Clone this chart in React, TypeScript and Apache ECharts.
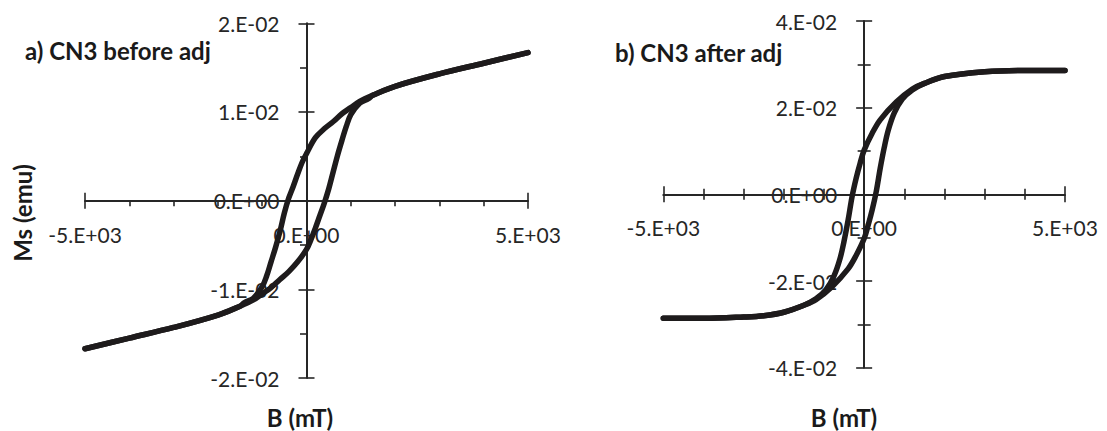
import React, { useEffect, useRef } from "react";
import * as echarts from "echarts";

// ---------- data ----------
// a) CN3 before adj — descending branch (from +5000 mT to -5000 mT)
const beforeDescB = [5000, 4000, 3000, 2000, 1500, 1200, 1000, 800, 600, 400, 200, 0, -100, -200, -300, -400, -500, -600, -700, -800, -900, -1000, -1200, -1400, -1500, -2000, -3000, -4000, -5000];
const beforeDescM = [0.0167, 0.0155, 0.0143, 0.0129, 0.0119, 0.0112, 0.0105, 0.0098, 0.0089, 0.0081, 0.0071, 0.0053, 0.0043, 0.0030, 0.0016, 0.0003, -0.0014, -0.0035, -0.0053, -0.0069, -0.0085, -0.0097, -0.0110, -0.0115, -0.0119, -0.0129, -0.0143, -0.0155, -0.0167];
// a) ascending branch (from -5000 mT to +5000 mT)
const beforeAscB = [-5000, -4000, -3000, -2000, -1500, -1200, -1000, -800, -600, -400, -200, 0, 100, 200, 300, 400, 500, 600, 700, 800, 900, 1000, 1200, 1400, 1500, 2000, 3000, 4000, 5000];
const beforeAscM = [-0.0167, -0.0155, -0.0143, -0.0129, -0.0119, -0.0112, -0.0105, -0.0098, -0.0089, -0.0080, -0.0069, -0.0055, -0.0044, -0.0031, -0.0017, -0.0003, 0.0013, 0.0032, 0.0051, 0.0068, 0.0084, 0.0097, 0.0110, 0.0115, 0.0119, 0.0129, 0.0143, 0.0155, 0.0167];

// b) CN3 after adj — descending branch
const afterDescB = [5000, 4000, 3000, 2000, 1500, 1200, 800, 400, 200, 0, -100, -200, -300, -400, -500, -600, -750, -950, -1200, -1500, -2000, -2500, -3000, -4000, -5000];
const afterDescM = [0.0286, 0.0286, 0.0283, 0.0272, 0.0256, 0.0243, 0.0213, 0.0172, 0.0141, 0.0102, 0.0072, 0.0037, -0.0005, -0.0060, -0.0108, -0.0148, -0.0188, -0.0220, -0.0241, -0.0256, -0.0272, -0.0280, -0.0283, -0.0286, -0.0286];
// b) ascending branch
const afterAscB = [-5000, -4000, -3000, -2500, -2000, -1500, -1200, -800, -400, -200, 0, 100, 200, 300, 400, 500, 600, 750, 950, 1200, 1500, 2000, 3000, 4000, 5000];
const afterAscM = [-0.0286, -0.0286, -0.0283, -0.0280, -0.0272, -0.0256, -0.0243, -0.0213, -0.0172, -0.0141, -0.0102, -0.0071, -0.0036, 0.0006, 0.0060, 0.0108, 0.0148, 0.0188, 0.0220, 0.0241, 0.0256, 0.0272, 0.0283, 0.0286, 0.0286];

// tick labels
const xTickValues = [-5000, 0, 5000];
const xTickLabels = ["-5.E+03", "0.E+00", "5.E+03"];
const yTickValuesA = [-0.02, -0.01, 0, 0.01, 0.02];
const yTickLabelsA = ["-2.E-02", "-1.E-02", "0.E+00", "1.E-02", "2.E-02"];
const yTickValuesB = [-0.04, -0.02, 0, 0.02, 0.04];
const yTickLabelsB = ["-4.E-02", "-2.E-02", "0.E+00", "2.E-02", "4.E-02"];

const panelTitles = ["a) CN3 before adj", "b) CN3 after adj"];
const xAxisTitle = "B (mT)";
const yAxisTitle = "Ms (emu)";

// ---------- styles ----------
const FONT = "Lato, 'Open Sans', 'DejaVu Sans', sans-serif";
const AXIS_COLOR = "#262626";
const LABEL_COLOR = "#262626";
const LINE_COLOR = "#1e1b1c";

function pairs(xs: number[], ys: number[]) {
  return xs.map((x, i) => [x, ys[i]]);
}

function lookup(values: number[], labels: string[]) {
  return (v: number) => {
    for (let i = 0; i < values.length; i++) {
      if (Math.abs(values[i] - v) < 1e-9) return labels[i];
    }
    return "";
  };
}

export default function App() {
  const ref = useRef<HTMLDivElement>(null);

  useEffect(() => {
    if (!ref.current) return;
    const chart = echarts.init(ref.current, undefined, { renderer: "svg" });

    const grids = [
      { left: 85, top: 23.3, width: 443, height: 354.7 },
      { left: 663.3, top: 21, width: 401.7, height: 346.7 },
    ];

    const labelStyle = {
      color: LABEL_COLOR,
      fontFamily: FONT,
      fontSize: 21,
    };

    // axes cross in the middle of each grid (ranges are symmetric about zero)
    const mkX = (gridIndex: number, top: boolean, minorCross: boolean) => ({
      type: "value",
      gridIndex,
      position: top ? "top" : "bottom",
      offset: -grids[gridIndex].height / 2,
      min: -5000,
      max: 5000,
      interval: 5000,
      splitLine: { show: false },
      axisLine: {
        show: !top,
        onZero: false,
        lineStyle: { color: AXIS_COLOR, width: 2 },
      },
      axisTick: { show: true, length: 8, lineStyle: { color: AXIS_COLOR, width: 1.6 } },
      minorTick: {
        show: !top || minorCross,
        splitNumber: 5,
        length: 5.5,
        lineStyle: { color: AXIS_COLOR, width: 1.6 },
      },
      minorSplitLine: { show: false },
      axisLabel: {
        show: !top,
        margin: 23,
        ...labelStyle,
        formatter: lookup(xTickValues, xTickLabels),
      },
    });

    const mkY = (
      gridIndex: number,
      right: boolean,
      minorCross: boolean,
      min: number,
      max: number,
      interval: number,
      values: number[],
      labels: string[]
    ) => ({
      type: "value",
      gridIndex,
      position: right ? "right" : "left",
      offset: -grids[gridIndex].width / 2,
      min,
      max,
      interval,
      splitLine: { show: false },
      axisLine: {
        show: !right,
        onZero: false,
        lineStyle: { color: AXIS_COLOR, width: 2 },
      },
      axisTick: { show: true, length: 8, lineStyle: { color: AXIS_COLOR, width: 1.6 } },
      minorTick: {
        show: !right || minorCross,
        splitNumber: 2,
        length: 6.5,
        lineStyle: { color: AXIS_COLOR, width: 1.6 },
      },
      minorSplitLine: { show: false },
      axisLabel: {
        show: !right,
        margin: 27,
        ...labelStyle,
        formatter: lookup(values, labels),
      },
    });

    const lineSeries = (data: number[][], xi: number, yi: number) => ({
      type: "line",
      xAxisIndex: xi,
      yAxisIndex: yi,
      data,
      showSymbol: false,
      symbol: "none",
      smooth: 0.35,
      lineStyle: { color: LINE_COLOR, width: 5.5, cap: "round", join: "round" },
      z: 3,
    });

    const titleFont = `bold 24px ${FONT}`;

    const option: any = {
      animation: false,
      backgroundColor: "#ffffff",
      grid: grids,
      xAxis: [mkX(0, false, false), mkX(0, true, false), mkX(1, false, true), mkX(1, true, true)],
      yAxis: [
        mkY(0, false, false, -0.02, 0.02, 0.01, yTickValuesA, yTickLabelsA),
        mkY(0, true, false, -0.02, 0.02, 0.01, yTickValuesA, yTickLabelsA),
        mkY(1, false, true, -0.04, 0.04, 0.02, yTickValuesB, yTickLabelsB),
        mkY(1, true, true, -0.04, 0.04, 0.02, yTickValuesB, yTickLabelsB),
      ],
      series: [
        lineSeries(pairs(beforeDescB, beforeDescM), 0, 0),
        lineSeries(pairs(beforeAscB, beforeAscM), 0, 0),
        lineSeries(pairs(afterDescB, afterDescM), 2, 2),
        lineSeries(pairs(afterAscB, afterAscM), 2, 2),
      ],
      graphic: [
        {
          type: "text",
          x: 25,
          y: 50,
          style: { text: panelTitles[0], fill: "#1a1a1a", font: titleFont, align: "left", verticalAlign: "middle" },
        },
        {
          type: "text",
          x: 615,
          y: 52,
          style: { text: panelTitles[1], fill: "#1a1a1a", font: titleFont, align: "left", verticalAlign: "middle" },
        },
        {
          type: "text",
          x: 22,
          y: 213,
          rotation: Math.PI / 2,
          style: { text: yAxisTitle, fill: "#1a1a1a", font: titleFont, align: "center", verticalAlign: "middle" },
        },
        {
          type: "text",
          x: 300,
          y: 417,
          style: { text: xAxisTitle, fill: "#1a1a1a", font: titleFont, align: "center", verticalAlign: "middle" },
        },
        {
          type: "text",
          x: 844,
          y: 417,
          style: { text: xAxisTitle, fill: "#1a1a1a", font: titleFont, align: "center", verticalAlign: "middle" },
        },
      ],
    };

    chart.setOption(option);
    return () => chart.dispose();
  }, []);

  return (
    <div
      ref={ref}
      style={{ position: "fixed", left: 0, top: 0, width: 1107, height: 431, background: "#fff" }}
    />
  );
}
